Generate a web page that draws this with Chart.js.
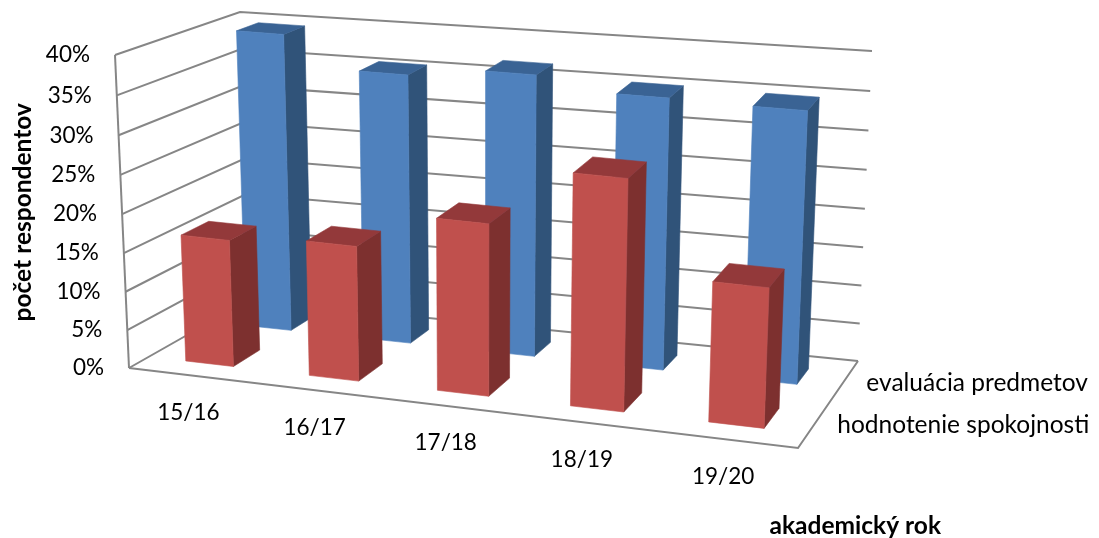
<!DOCTYPE html>
<html>
<head>
<meta charset="utf-8">
<style>
  html, body { margin: 0; background: #fff; }
</style>
<script src="https://cdn.jsdelivr.net/npm/chart.js@4"></script>
</head>
<body>
<canvas id="chart" width="1099" height="538"></canvas>
<script>
// DATA
const years = ["15/16", "16/17", "17/18", "18/19", "19/20"];
const spokojnost = [16.6, 17.6, 22.3, 29.8, 18];
const evaluacia = [39.7, 35.7, 37, 35.4, 35.2];
const yTicksMax = 40;
const yTickStep = 5;

// 3D box of the excel chart: picture corners of the plot cube
const FLB = [129, 368], FRB = [798, 448], BLB = [249, 300], BRB = [858, 361];
const FLT = [115, 55], FRT = [811, 127], BLT = [240, 12], BRT = [872, 51];

// where each series sits along the depth axis
const depthRange = [[0.125, 0.323], [0.603, 0.814]];

const FONT = "Lato, sans-serif";

function persp(t, r) {
  return t * r / (1 - t + t * r);
}
function mix(a, b, t) {
  return [a[0] + (b[0] - a[0]) * t, a[1] + (b[1] - a[1]) * t];
}
function project(u, v, w) {
  const s = persp(u, 0.91), t = persp(v, 1.4), h = persp(w, 0.966);
  const bottom = mix(mix(FLB, FRB, s), mix(BLB, BRB, s), t);
  const top = mix(mix(FLT, FRT, s), mix(BLT, BRT, s), t);
  return mix(bottom, top, h);
}
function poly(ctx, pts, color) {
  ctx.beginPath();
  pts.forEach((p, i) => i ? ctx.lineTo(p[0], p[1]) : ctx.moveTo(p[0], p[1]));
  ctx.closePath();
  ctx.fillStyle = color;
  ctx.fill();
  ctx.strokeStyle = color;
  ctx.lineWidth = 0.6;
  ctx.stroke();
}
function line(ctx, pts) {
  ctx.beginPath();
  pts.forEach((p, i) => i ? ctx.lineTo(p[0], p[1]) : ctx.moveTo(p[0], p[1]));
  ctx.stroke();
}

// flat scale pixels -> unit cube
function unitX(chart, px) {
  const a = chart.chartArea;
  return (px - a.left) / (a.right - a.left);
}
function unitY(chart, px) {
  const a = chart.chartArea;
  return (a.bottom - px) / (a.bottom - a.top);
}

// bar controller that draws its bars as boxes
class Bar3D extends Chart.BarController {
  draw() {
    const chart = this.chart, ctx = chart.ctx, meta = this._cachedMeta;
    const ds = this.getDataset();
    const [v0, v1] = depthRange[meta.index];
    meta.data.forEach(el => {
      const u0 = unitX(chart, el.x - el.width / 2), u1 = unitX(chart, el.x + el.width / 2);
      const w0 = unitY(chart, el.base), w1 = unitY(chart, el.y);
      poly(ctx, [project(u1, v0, w0), project(u1, v1, w0), project(u1, v1, w1), project(u1, v0, w1)], ds.sideColor);
      poly(ctx, [project(u0, v0, w1), project(u1, v0, w1), project(u1, v1, w1), project(u0, v1, w1)], ds.topColor);
      poly(ctx, [project(u0, v0, w0), project(u1, v0, w0), project(u1, v0, w1), project(u0, v0, w1)], ds.backgroundColor);
    });
  }
}
Bar3D.id = "bar3d";
Bar3D.defaults = Chart.BarController.defaults;
Chart.register(Bar3D);

const box3d = {
  id: "box3d",
  beforeDatasetsDraw(chart) {
    const ctx = chart.ctx, y = chart.scales.y, x = chart.scales.x;
    ctx.save();
    ctx.strokeStyle = "#868686";
    ctx.lineWidth = 2;
    y.ticks.forEach(t => {
      const w = unitY(chart, y.getPixelForValue(t.value));
      line(ctx, [project(0, 0, w), project(0, 1, w), project(1, 1, w)]);
    });
    line(ctx, [project(0, 0, 0), project(0, 0, 1)]);
    line(ctx, [project(0, 0, 0), project(1, 0, 0), project(1, 1, 0)]);

    ctx.fillStyle = "#000";
    ctx.font = "22.5px " + FONT;
    ctx.textBaseline = "middle";
    ctx.textAlign = "right";
    y.ticks.forEach(t => {
      const p = project(0, 0, unitY(chart, y.getPixelForValue(t.value)));
      ctx.fillText(t.label, p[0] - 25, p[1]);
    });
    ctx.textAlign = "center";
    x.ticks.forEach((t, i) => {
      const p = project(unitX(chart, x.getPixelForTick(i)), 0, 0);
      ctx.fillText(years[i], p[0] - 2, p[1] + 37);
    });
    ctx.font = "24.5px " + FONT;
    ctx.textAlign = "left";
    chart.data.datasets.forEach((d, i) => {
      const r = depthRange[i];
      const p = project(1, (r[0] + r[1]) / 2, 0);
      ctx.fillText(d.label, p[0] + 22, p[1] + 2);
    });
    ctx.restore();
  }
};

new Chart(document.getElementById("chart"), {
  type: "bar3d",
  data: {
    labels: years,
    datasets: [
      { label: "hodnotenie spokojnosti", data: spokojnost, backgroundColor: "#c0504d", sideColor: "#7d302f", topColor: "#93393a", clip: false },
      { label: "evaluácia predmetov", data: evaluacia, backgroundColor: "#4f81bd", sideColor: "#305379", topColor: "#3a6394", clip: false }
    ]
  },
  plugins: [box3d],
  options: {
    responsive: false,
    animation: false,
    layout: { padding: { left: 8, right: 158, top: 62, bottom: -3 } },
    datasets: { bar3d: { grouped: false, barPercentage: 1, categoryPercentage: 0.39 } },
    plugins: { legend: { display: false }, tooltip: { enabled: false } },
    scales: {
      x: {
        type: "category",
        grid: { display: false },
        border: { display: false },
        ticks: { display: false },
        title: {
          display: true, text: "akademický rok", align: "end", color: "#000",
          font: { family: FONT, size: 24.5, weight: "bold" },
          padding: { top: 141, bottom: 0 }
        }
      },
      y: {
        type: "linear",
        min: 0,
        max: yTicksMax,
        grid: { display: false },
        border: { display: false },
        ticks: { display: false, stepSize: yTickStep, callback: v => v + "%" },
        title: {
          display: true, text: "počet respondentov", color: "#000",
          font: { family: FONT, size: 24.5, weight: "bold" },
          padding: 0
        }
      }
    }
  }
});
</script>
</body>
</html>
